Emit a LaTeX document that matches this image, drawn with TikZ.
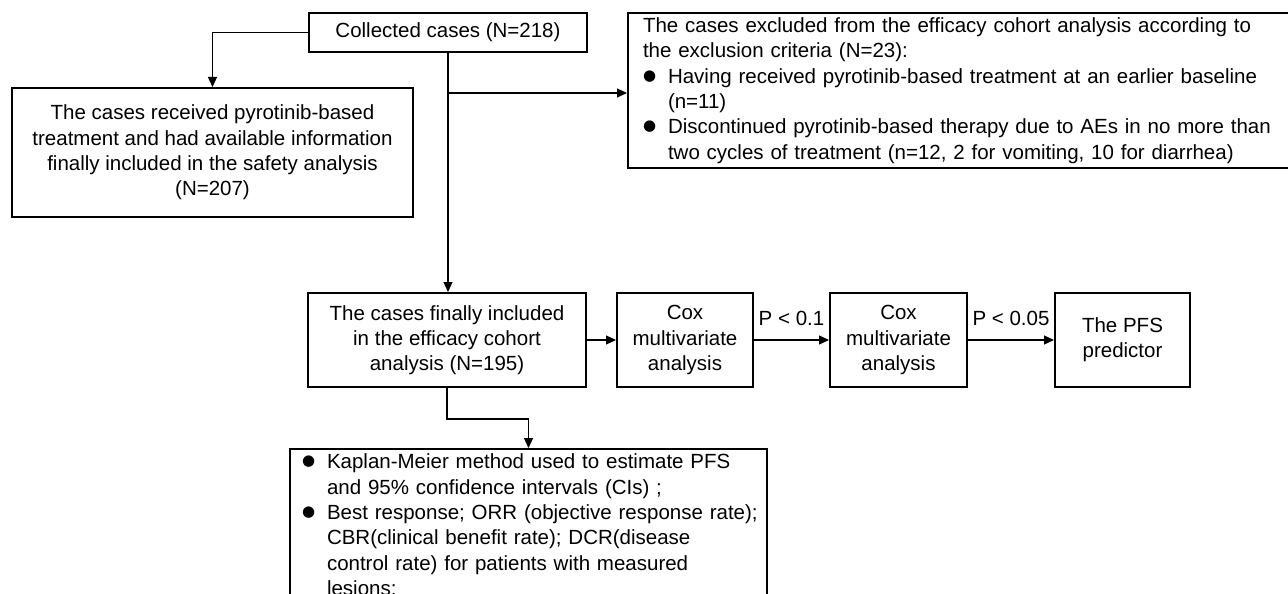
\documentclass[tikz,border=0pt]{standalone}
\usepackage{fontspec}
\setmainfont{Liberation Sans}
\newfontfamily\symfont{DejaVu Sans}
\usetikzlibrary{arrows.meta}
\newcommand{\diagfont}{\fontsize{20.5pt}{25.3pt}\selectfont}
\newcommand{\bul}{\makebox[25pt][l]{\raisebox{3pt}{\symfont\fontsize{15pt}{15pt}\selectfont ●}}}
\newcommand{\ind}{\hspace*{25pt}}
\begin{document}
\begin{tikzpicture}[x=1pt,y=-1pt,
  box/.style={draw, line width=2pt, inner sep=0pt, align=center, font=\diagfont},
  conn/.style={line width=1.2pt, -{Triangle[length=10pt,width=9pt]}},
  lab/.style={font=\diagfont, inner sep=0pt, anchor=base}]
\useasboundingbox (0,0) rectangle (1288,594);
\fill[white] (0,0) rectangle (1288,594);

\node[box, minimum width=278pt, minimum height=39pt] (col) at (448,32.5) {Collected cases (N=218)};

\node[box, minimum width=401pt, minimum height=129pt] (safe) at (212.5,152.5)
  {The cases received pyrotinib-based\\treatment and had available information\\finally included in the safety analysis\\(N=207)};

\node[box, anchor=west, minimum height=155pt, inner xsep=15pt, text width=640pt, align=left] (exc) at (627,90.5)
  {\mbox{The cases excluded from the efficacy cohort analysis according to}\\
   \mbox{the exclusion criteria (N=23):}\\
   \bul\mbox{Having received pyrotinib-based treatment at an earlier baseline}\\
   \ind\mbox{(n=11)}\\
   \bul\mbox{Discontinued pyrotinib-based therapy due to AEs in no more than}\\
   \ind\mbox{two cycles of treatment (n=12, 2 for vomiting, 10 for diarrhea)}};

\node[box, minimum width=278pt, minimum height=94pt] (eff) at (447,340)
  {The cases finally included\\in the efficacy cohort\\analysis (N=195)};
\node[box, minimum width=136pt, minimum height=94pt] (cox1) at (685,340)
  {Cox\\multivariate\\analysis};
\node[box, minimum width=137pt, minimum height=94pt] (cox2) at (898.5,340)
  {Cox\\multivariate\\analysis};
\node[box, minimum width=135pt, minimum height=94pt] (pfs) at (1122.5,340)
  {The PFS\\predictor};

\node[box, anchor=north, inner xsep=12pt, inner ysep=5pt, text width=453pt, align=left] (bot) at (528.5,448)
  {\bul\mbox{Kaplan-Meier method used to estimate PFS}\\
   \ind\mbox{and 95\% confidence intervals (CIs) ;}\\
   \bul\mbox{Best response; ORR (objective response rate);}\\
   \ind\mbox{CBR(clinical benefit rate); DCR(disease}\\
   \ind\mbox{control rate) for patients with measured}\\
   \ind\mbox{lesions;}};

\draw[conn] (col.west) -| (safe.north);
\draw[conn] (col.south) -- (col.south |- eff.north);
\coordinate (br) at (448,93);
\draw[conn] (br) -- (br -| exc.west);
\draw[conn] (eff.east) -- (cox1.west);
\draw[conn] (cox1.east) -- node[lab, yshift=14.5pt] {P < 0.1} (cox2.west);
\draw[conn] (cox2.east) -- node[lab, yshift=14.5pt] {P < 0.05} (pfs.west);
\draw[conn] (eff.south) -- ++(0,31) -| (bot.north);
\end{tikzpicture}
\end{document}
